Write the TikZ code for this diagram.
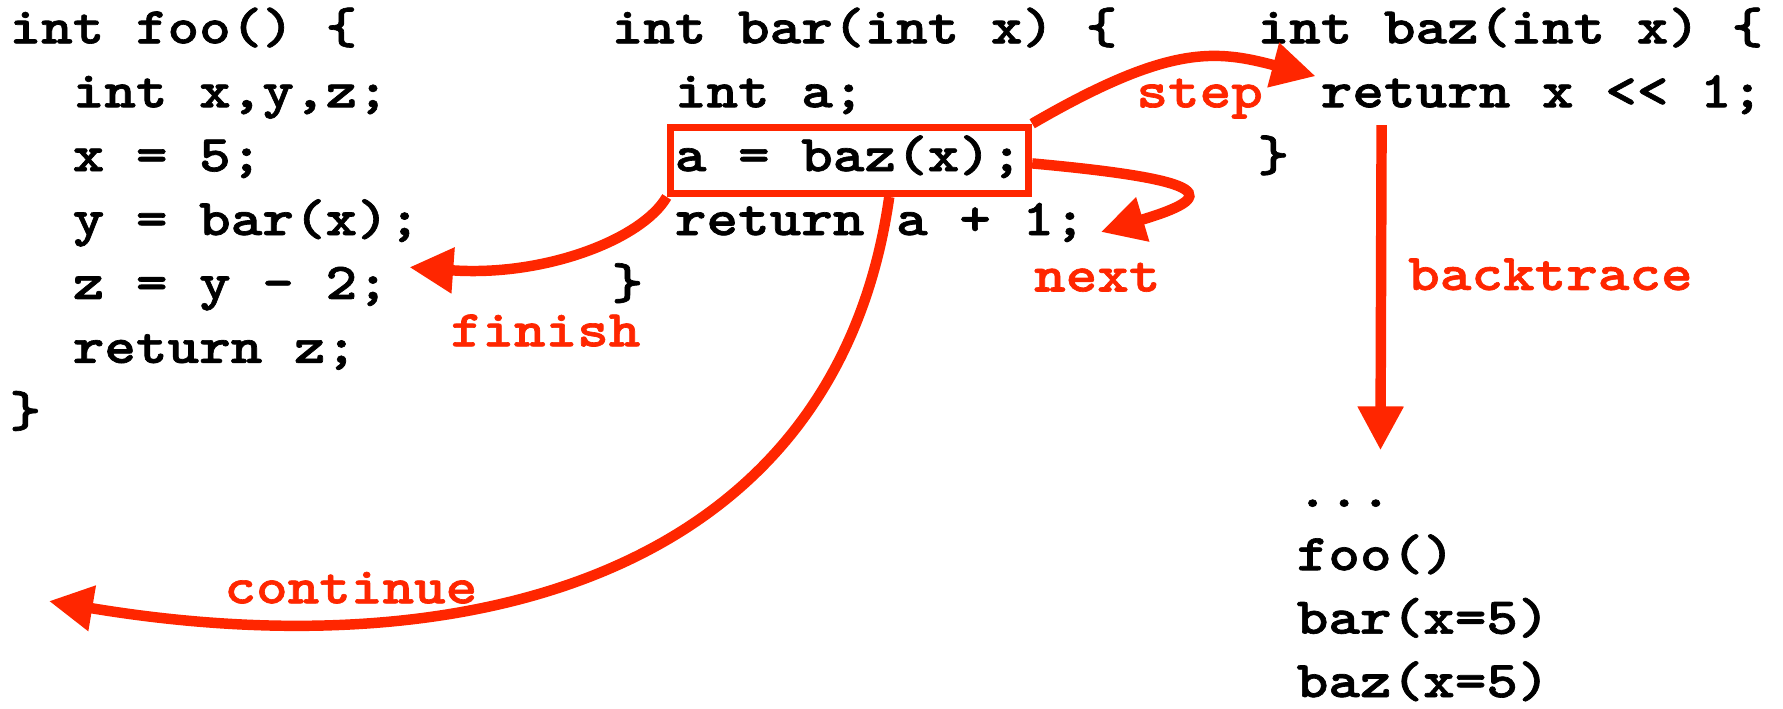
\documentclass[tikz,border=0pt]{standalone}
\usepackage{fontspec}
\usetikzlibrary{arrows.meta}
% bold typewriter face, widened and thickened to Courier-like proportions
\newfontfamily\codefont{lmmonolt10-bold}[Extension=.otf, FakeStretch=1.166, FakeBold=1.3]
\definecolor{hot}{RGB}{255,38,0}

\begin{document}
\begin{tikzpicture}[x=0.5pt, y=-0.5pt,
  code/.style={anchor=base west, inner sep=0pt, text=black,
    font=\codefont\fontsize{22.7pt}{27pt}\selectfont},
  cmd/.style={code, text=hot},
  jump/.style={draw=hot, line width=4.6pt,
    -{Triangle[length=19.3pt, width=19.1pt]}},
  callbox/.style={draw=hot, line width=3.2pt, minimum width=157.5pt,
    minimum height=29pt, inner sep=0pt}]
\useasboundingbox (0,0) rectangle (1568,623);

% foo()
\node[code] (foo0) at (8,38.1)    {int foo() \{};
\node[code] (foo1) at (63.6,94.3) {int x,y,z;};
\node[code] (foo2) at (63.6,150.5) {x = 5;};
\node[code] (foo3) at (63.6,206.7) {y = bar(x);};
\node[code] (foo4) at (63.6,262.9) {z = y - 2;};
\node[code] (foo5) at (63.6,319.1) {return z;};
\node[code] (foo6) at (8,375.3)   {\}};

% bar()
\node[code] (bar0) at (537.5,38.1)  {int bar(int x) \{};
\node[code] (bar1) at (593.1,94.3)  {int a;};
\node[code] (bar2) at (593.1,150.5) {a = baz(x);};
\node[code] (bar3) at (593.1,206.7) {return a + 1;};
\node[code] (bar4) at (537.5,262.9) {\}};

% baz()
\node[code] (baz0) at (1105.5,38.1)  {int baz(int x) \{};
\node[code] (baz1) at (1161.1,94.3)  {return x << 1;};
\node[code] (baz2) at (1105.5,150.5) {\}};

% call stack
\node[code] (bt0) at (1140,445.6) {...};
\node[code] (bt1) at (1140,501.4) {foo()};
\node[code] (bt2) at (1140,557.2) {bar(x=5)};
\node[code] (bt3) at (1140,613)   {baz(x=5)};

% highlighted call
\node[callbox] (callbox) at (747,141) {};

% command labels
\node[cmd] (lstep)     at (999,94.4)  {step};
\node[cmd] (lnext)     at (909,256.3) {next};
\node[cmd] (lfinish)   at (396,304.5) {finish};
\node[cmd] (lcont)     at (197,530.5) {continue};
\node[cmd] (lback)     at (1238,255)  {backtrace};

% arrow ends
\coordinate (steptip)   at (1157,67);
\coordinate (nexttip)   at (968,204);
\coordinate (finishtip) at (360,235);
\coordinate (conttip)   at (43,528.6);
\coordinate (bttop)     at (1215,110);
\coordinate (bttip)     at (1214,396);

\draw[jump] (callbox.north east) .. controls (1029.4,38.1) and (1069.9,44) .. (steptip);
\draw[jump] ([yshift=-1.35pt]callbox.east) .. controls (1070,158.5) and (1072,173) .. (nexttip);
\draw[jump] (callbox.south west) .. controls (565,210) and (479.6,243.7) .. (finishtip);
\draw[jump] ([xshift=17.5pt]callbox.south) .. controls (734.4,508.1) and (408,589.6) .. (conttip);
\draw[jump] (bttop) -- (bttip);
\end{tikzpicture}
\end{document}
